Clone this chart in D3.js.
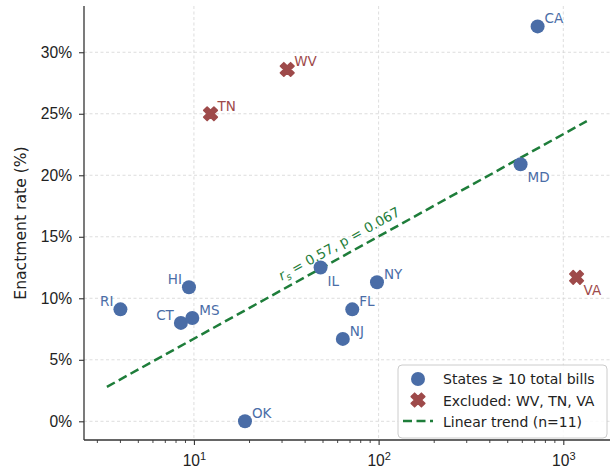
<!DOCTYPE html>
<html>
<head>
<meta charset="utf-8">
<script src="https://cdn.jsdelivr.net/npm/d3@7"></script>
<style>
  body { margin: 0; background: #fff; }
  svg { font-family: "DejaVu Sans", sans-serif; }
</style>
</head>
<body>
<svg id="chart" width="610" height="472"></svg>
<script>
// states with >= 10 total bills
const states = ['RI', 'HI', 'CT', 'MS', 'OK', 'IL', 'FL', 'NJ', 'NY', 'MD', 'CA']
const totalBills = [4.0, 9.4, 8.5, 9.8, 18.9, 48.5, 72, 64, 98, 587, 726]
const enactRate = [9.1, 10.9, 8.0, 8.4, 0.0, 12.5, 9.1, 6.7, 11.3, 20.9, 32.1]

// excluded states
const excluded = ['WV', 'TN', 'VA']
const excludedBills = [32, 12.3, 1180]
const excludedRate = [28.6, 25.0, 11.7]

// trend line end points (bills, rate)
const trendX = [3.38, 1340]
const trendY = [2.8, 24.4]

const yTicks = [0, 5, 10, 15, 20, 25, 30]
const xTicks = [10, 100, 1000]
const legendLabels = ['States \u2265 10 total bills', 'Excluded: WV, TN, VA', 'Linear trend (n=11)']

// label placement: ur = upper right, ul = upper left, lr = lower right
const stateLabelPos = { RI: 'ul', HI: 'ul', CT: 'ul', MS: 'ur', OK: 'ur', IL: 'lr', FL: 'ur', NJ: 'ur', NY: 'ur', MD: 'lr', CA: 'ur' }
const excludedLabelPos = { WV: 'ur', TN: 'ur', VA: 'lr' }

const BLUE = '#4a6da7'
const RED = '#9e4a4a'
const GREEN = '#1e7d3a'

const svg = d3.select('#chart')
const margin = { top: 6, right: 0, bottom: 32, left: 84 }
const width = 610
const height = 472

const x = d3.scaleLog()
    .domain([2.54, 1790])
    .range([margin.left, width - margin.right])

const y = d3.scaleLinear()
    .domain([-1.52, 33.76])
    .range([height - margin.bottom, margin.top])

// grid
const grid = svg.append('g').attr('class', 'grid')
grid.selectAll('.gx')
    .data(xTicks)
    .join('line')
    .attr('x1', (d) => x(d)).attr('x2', (d) => x(d))
    .attr('y1', margin.top).attr('y2', height - margin.bottom)
grid.selectAll('.gy')
    .data(yTicks)
    .join('line')
    .attr('class', 'gy')
    .attr('x1', margin.left).attr('x2', width - margin.right)
    .attr('y1', (d) => y(d)).attr('y2', (d) => y(d))
grid.selectAll('line')
    .attr('stroke', '#d4d4d4')
    .attr('stroke-width', 0.8)
    .attr('stroke-dasharray', '3,2.5')

// axes
const minorTicks = x.ticks().filter((d) => xTicks.indexOf(d) < 0)
const xAxis = (g) =>
    g.attr('transform', `translate(0,${height - margin.bottom})`)
        .call(d3.axisBottom(x).tickValues(xTicks).tickSize(5).tickFormat(''))
        .call((g) => g.selectAll('.minor')
            .data(minorTicks)
            .join('line')
            .attr('class', 'minor')
            .attr('x1', (d) => x(d)).attr('x2', (d) => x(d))
            .attr('y1', 0).attr('y2', 3)
            .attr('stroke', '#333')
            .attr('stroke-width', 0.9))

const xg = svg.append('g').call(xAxis)
xg.selectAll('.tick')
    .append('text')
    .attr('y', 26)
    .attr('fill', '#222')
    .attr('text-anchor', 'middle')
    .attr('font-size', 15.6)
    .each(function (d) {
        const t = d3.select(this)
        t.append('tspan').text('10')
        t.append('tspan').text(Math.round(Math.log10(d))).attr('font-size', 11).attr('dy', -6)
    })

const yg = svg.append('g')
    .attr('transform', `translate(${margin.left},0)`)
    .call(d3.axisLeft(y).tickValues(yTicks).tickSize(5).tickPadding(7).tickFormat((d) => d + '%'))
yg.selectAll('.tick text').attr('font-size', 15.6).attr('fill', '#222')

svg.selectAll('.domain').attr('stroke', '#333').attr('stroke-width', 1.3)
svg.selectAll('.tick line').attr('stroke', '#333').attr('stroke-width', 1.1)
xg.select('.domain').attr('d', `M${margin.left},0H${width}`)
yg.select('.domain').attr('d', `M0,${margin.top}V${height - margin.bottom}`)

svg.append('text')
    .attr('transform', `translate(26,${(margin.top + height - margin.bottom) / 2}) rotate(-90)`)
    .attr('text-anchor', 'middle')
    .attr('font-size', 15.6)
    .attr('fill', '#222')
    .text('Enactment rate (%)')

// trend line
svg.append('line')
    .attr('x1', x(trendX[0])).attr('y1', y(trendY[0]))
    .attr('x2', x(trendX[1])).attr('y2', y(trendY[1]))
    .attr('stroke', GREEN)
    .attr('stroke-width', 2.5)
    .attr('stroke-dasharray', '9,4.5')

const angle = Math.atan2(y(trendY[1]) - y(trendY[0]), x(trendX[1]) - x(trendX[0])) * 180 / Math.PI
const annX = 66
const annY = trendY[0] + (trendY[1] - trendY[0]) * (Math.log10(annX) - Math.log10(trendX[0])) / (Math.log10(trendX[1]) - Math.log10(trendX[0]))
const ann = svg.append('text')
    .attr('transform', `translate(${x(annX)},${y(annY)}) rotate(${angle})`)
    .attr('dy', -8)
    .attr('text-anchor', 'middle')
    .attr('font-size', 13.5)
    .attr('fill', GREEN)
ann.append('tspan').text('r').attr('font-style', 'italic')
ann.append('tspan').text('s').attr('font-size', 9.5).attr('font-style', 'italic').attr('dy', 3)
ann.append('tspan').text(' = 0.57, p = 0.067').attr('dy', -3)

// label helper
const labelDx = { ur: 7, ul: -7, lr: 7 }
const labelDy = { ur: -3, ul: -3, lr: 18 }
const labelAnchor = { ur: 'start', ul: 'end', lr: 'start' }

function addLabels(names, xs, ys, pos, color) {
    svg.append('g')
        .selectAll('text')
        .data(names)
        .join('text')
        .attr('x', (d, i) => x(xs[i]) + labelDx[pos[d]])
        .attr('y', (d, i) => y(ys[i]) + labelDy[pos[d]])
        .attr('text-anchor', (d) => labelAnchor[pos[d]])
        .attr('font-size', 13.5)
        .attr('fill', color)
        .text((d) => d)
}

// points
svg.append('g')
    .selectAll('circle')
    .data(states)
    .join('circle')
    .attr('cx', (d, i) => x(totalBills[i]))
    .attr('cy', (d, i) => y(enactRate[i]))
    .attr('r', 7)
    .attr('fill', BLUE)
addLabels(states, totalBills, enactRate, stateLabelPos, BLUE)

const xMark = d3.symbol().type(d3.symbolCross).size(115)
svg.append('g')
    .selectAll('path')
    .data(excluded)
    .join('path')
    .attr('d', xMark)
    .attr('transform', (d, i) => `translate(${x(excludedBills[i])},${y(excludedRate[i])}) rotate(45)`)
    .attr('fill', RED)
    .attr('stroke', RED)
    .attr('stroke-width', 1.6)
    .attr('stroke-linejoin', 'round')
addLabels(excluded, excludedBills, excludedRate, excludedLabelPos, RED)

// legend
const legend = svg.append('g').attr('transform', 'translate(398,365)')
legend.append('rect')
    .attr('width', 209).attr('height', 73)
    .attr('rx', 4)
    .attr('fill', '#fff').attr('fill-opacity', 0.85)
    .attr('stroke', '#cccccc')
legend.append('circle').attr('cx', 20).attr('cy', 14).attr('r', 7).attr('fill', BLUE)
legend.append('path').attr('d', xMark).attr('transform', 'translate(20,35) rotate(45)')
    .attr('fill', RED).attr('stroke', RED).attr('stroke-width', 1.6).attr('stroke-linejoin', 'round')
legend.append('line')
    .attr('x1', 5).attr('x2', 35).attr('y1', 56).attr('y2', 56)
    .attr('stroke', GREEN).attr('stroke-width', 2.5).attr('stroke-dasharray', '9,4.5')
legend.selectAll('.lt')
    .data(legendLabels)
    .join('text')
    .attr('x', 45)
    .attr('y', (d, i) => 19 + i * 21.5)
    .attr('font-size', 14)
    .attr('fill', '#222')
    .text((d) => d)
</script>
</body>
</html>
